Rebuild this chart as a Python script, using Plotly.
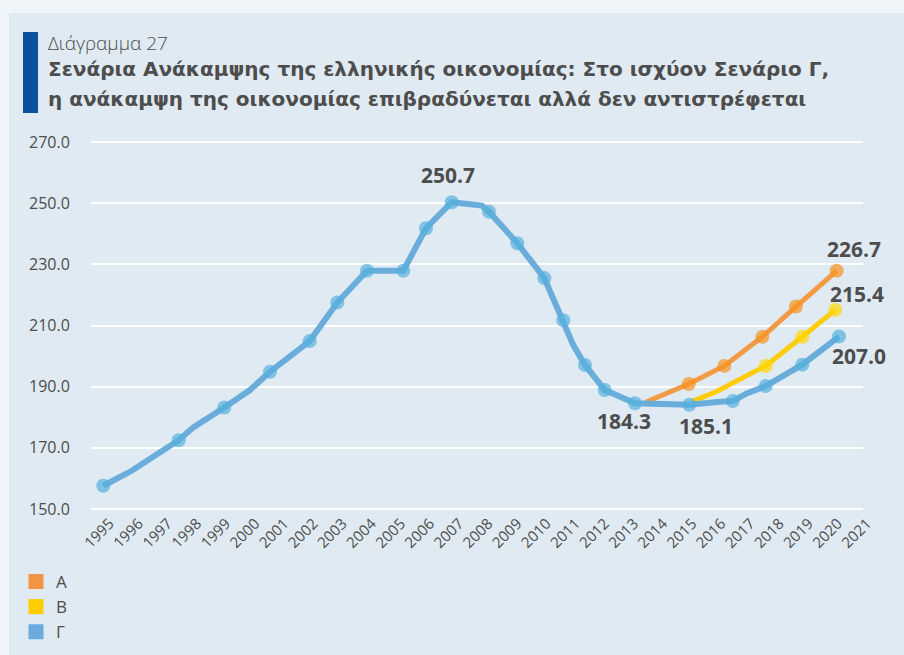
import plotly.graph_objects as go

# ---------------- data ----------------
years_tick = list(range(1995, 2022))
y_ticks = [150, 170, 190, 210, 230, 250, 270]

# Scenario Γ (historical + Γ path); points with marker flag 0 are line bends
g_x = [1994.955, 1995.930, 1997.544, 1998.045, 1999.109, 1999.991, 2000.678,
       2002.041, 2002.988, 2004.008, 2005.254, 2006.033, 2006.916, 2007.955,
       2008.196, 2009.168, 2010.095, 2010.747, 2011.090, 2011.492, 2012.168,
       2013.208, 2015.072, 2016.126, 2016.562, 2017.043, 2017.695, 2018.951,
       2020.211]
g_y = [157.6, 162.5, 172.5, 176.7, 183.2, 188.9, 194.9,
       204.9, 217.5, 227.9, 227.9, 241.8, 250.3, 249.2,
       247.2, 236.9, 225.5, 211.7, 203.6, 197.1, 188.9,
       184.6, 184.1, 185.1, 185.3, 187.8, 190.2, 197.2,
       206.4]
g_mark = [1, 0, 1, 0, 1, 0, 1,
          1, 1, 1, 1, 1, 1, 0,
          1, 1, 1, 1, 0, 1, 1,
          1, 1, 0, 1, 0, 1, 1,
          1]

# Scenario A
a_x = [2013.569, 2015.052, 2016.274, 2017.578, 2018.735, 2020.132]
a_y = [184.9, 190.9, 196.8, 206.3, 216.2, 227.9]
a_mark = [0, 1, 1, 1, 1, 1]

# Scenario B
b_x = [2015.162, 2016.010, 2016.981, 2017.695, 2018.951, 2020.084]
b_y = [185.1, 188.4, 193.3, 196.8, 206.3, 215.1]
b_mark = [0, 0, 0, 1, 1, 1]

# value labels
lab_text = ["250.7", "226.7", "215.4", "207.0", "184.3", "185.1"]
lab_x = [2006.789, 2020.726, 2020.829, 2020.898, 2012.830, 2015.645]
lab_y = [259.06, 235.02, 220.31, 199.87, 178.78, 177.14]

legend_names = ["Α", "Β", "Γ"]

# ---------------- styling ----------------
W, H = 904, 655
ML, MR, MT, MB = 91, 41, 141, 144
PW, PH = W - ML - MR, H - MT - MB

PANEL = "#dfeaf3"
OUTER = "#f0f5f9"
TXT = "#4d4d4d"
ORANGE_L, ORANGE_M = "#f39a45", "#f7931e"
YELLOW_L, YELLOW_M = "#ffcc0a", "#ffd700"
BLUE_L, BLUE_M = "#6aaddb", "#56b0dc"
LEG_COLORS = ["#f39444", "#ffcc00", "#6aaadc"]
FONT = "Open Sans"
TFONT = "DejaVu Sans"


def px(xp):
    return (xp - ML) / PW


def py(yp):
    return (H - MB - yp) / PH


def sizes(flags, s):
    return [s if f else 0 for f in flags]


fig = go.Figure()

fig.add_trace(go.Scatter(x=a_x, y=a_y, mode="lines+markers",
                         line=dict(color=ORANGE_L, width=5),
                         marker=dict(color=ORANGE_M, size=sizes(a_mark, 14), line=dict(width=0)),
                         showlegend=False, hoverinfo="skip"))
fig.add_trace(go.Scatter(x=b_x, y=b_y, mode="lines+markers",
                         line=dict(color=YELLOW_L, width=5),
                         marker=dict(color=YELLOW_M, size=sizes(b_mark, 14), line=dict(width=0)),
                         showlegend=False, hoverinfo="skip"))
fig.add_trace(go.Scatter(x=g_x, y=g_y, mode="lines+markers",
                         line=dict(color=BLUE_L, width=6),
                         marker=dict(color=BLUE_M, size=sizes(g_mark, 14), line=dict(width=0)),
                         showlegend=False, hoverinfo="skip"))

for name, col in zip(legend_names, LEG_COLORS):
    fig.add_trace(go.Scatter(x=[None], y=[None], mode="markers", name=name,
                             marker=dict(symbol="square", size=15, color=col, line=dict(width=0))))

for t, x, y in zip(lab_text, lab_x, lab_y):
    fig.add_annotation(x=x, y=y, text=t, showarrow=False,
                       font=dict(family=FONT, size=21, color=TXT, weight="bold"),
                       xanchor="center", yanchor="middle")

# header texts
fig.add_annotation(xref="paper", yref="paper", x=px(46), y=py(43),
                   text="Διάγραμμα 27", showarrow=False, xanchor="left",
                   yanchor="middle", font=dict(family=FONT, size=19, color=TXT, weight=300))
fig.add_annotation(xref="paper", yref="paper", x=px(46), y=py(69),
                   text="Σενάρια Ανάκαμψης της ελληνικής οικονομίας: Στο ισχύον Σενάριο Γ,",
                   showarrow=False, xanchor="left", yanchor="middle",
                   font=dict(family=TFONT, size=20, color=TXT, weight="bold"))
fig.add_annotation(xref="paper", yref="paper", x=px(46), y=py(99),
                   text="η ανάκαμψη της οικονομίας επιβραδύνεται αλλά δεν αντιστρέφεται",
                   showarrow=False, xanchor="left", yanchor="middle",
                   font=dict(family=TFONT, size=20, color=TXT, weight="bold"))

shapes = [
    dict(type="rect", xref="paper", yref="paper", x0=px(0), x1=px(W), y0=py(0), y1=py(13),
         fillcolor=OUTER, line=dict(width=0), layer="below"),
    dict(type="rect", xref="paper", yref="paper", x0=px(0), x1=px(9), y0=py(0), y1=py(H),
         fillcolor=OUTER, line=dict(width=0), layer="below"),
    dict(type="rect", xref="paper", yref="paper", x0=px(23), x1=px(38), y0=py(32), y1=py(113),
         fillcolor="#0a519d", line=dict(width=0), layer="above"),
]

fig.update_layout(
    width=W, height=H,
    margin=dict(l=ML, r=MR, t=MT, b=MB, pad=0, autoexpand=False),
    paper_bgcolor=PANEL, plot_bgcolor=PANEL,
    shapes=shapes,
    font=dict(family=FONT, color=TXT),
    legend=dict(xref="container", yref="container", x=16 / W, y=1 - 564 / H,
                xanchor="left", yanchor="top", bgcolor="rgba(0,0,0,0)",
                font=dict(family=FONT, size=17, color=TXT),
                itemwidth=30, tracegroupgap=0),
    xaxis=dict(range=[1994.533, 2021.035], tickmode="array", tickvals=years_tick,
               ticktext=[str(y) for y in years_tick], tickangle=-45,
               tickfont=dict(family=FONT, size=15, color=TXT),
               showgrid=False, zeroline=False, showline=False,
               ticks="", ticklabelshift=5, automargin=False),
    yaxis=dict(range=[149.35, 270.33], tickmode="array", tickvals=y_ticks,
               tickformat=".1f", tickfont=dict(family=FONT, size=16, color=TXT),
               showgrid=True, gridcolor="#ffffff", gridwidth=2,
               zeroline=False, showline=False, automargin=False,
               ticks="outside", ticklen=17, tickcolor="rgba(0,0,0,0)"),
)

fig.write_html(
    "out.html",
    config={"displayModeBar": False},
    post_script="document.body.style.margin='0';document.body.style.overflow='hidden';",
)
